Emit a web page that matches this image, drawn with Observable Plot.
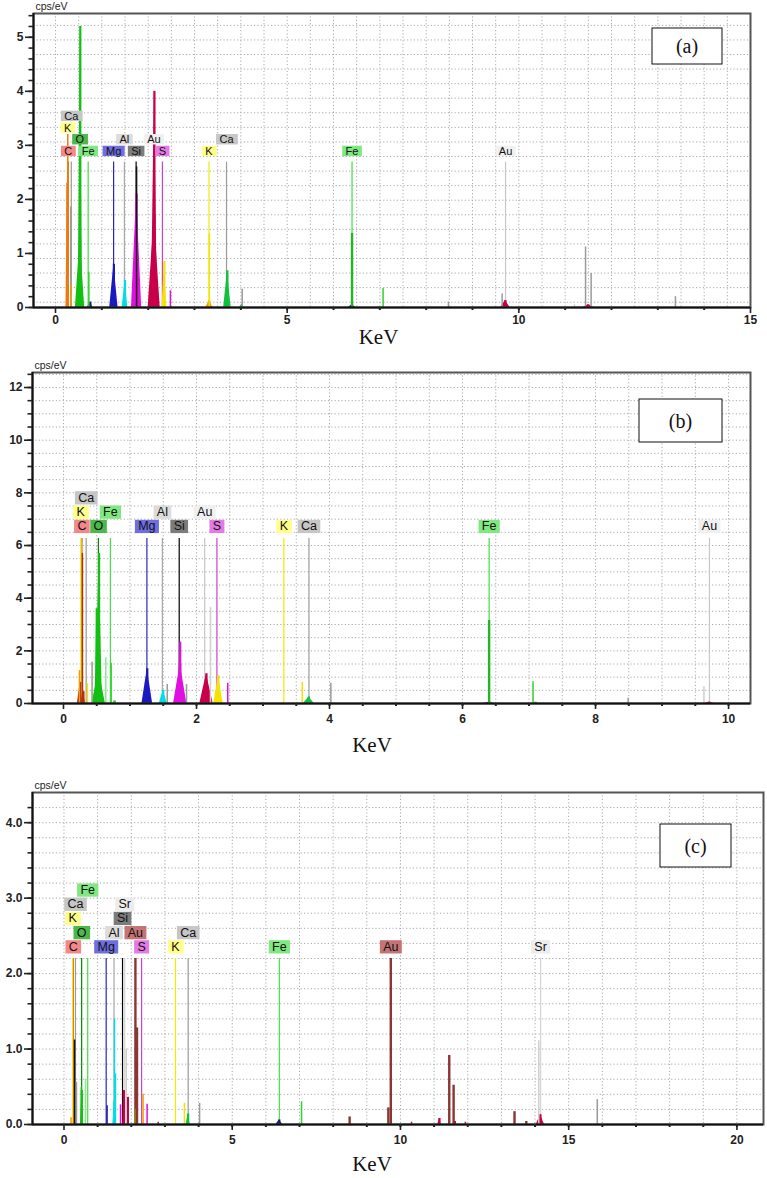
<!DOCTYPE html>
<html><head><meta charset="utf-8">
<script src="https://cdn.jsdelivr.net/npm/d3@7"></script>
<script src="https://cdn.jsdelivr.net/npm/@observablehq/plot@0.6"></script>
<style>
html,body{margin:0;padding:0;background:#fff}
#root{width:767px;height:1178px;overflow:hidden}
#root svg{display:block}
</style></head><body><div id="root"></div>
<script>
// ================= DATA =================
// Element marker labels: [symbol, energy (keV), stack row]
const labelsA = [["C",0.277,0],["Fe",0.705,0],["Mg",1.254,0],["Si",1.740,0],["S",2.307,0],["K",3.313,0],["Fe",6.400,0],["Au",9.713,0],
  ["O",0.525,1],["Al",1.487,1],["Au",2.123,1],["Ca",3.691,1],["K",0.260,2],["Ca",0.341,3]];
const labelsB = [["C",0.277,0],["O",0.525,0],["Mg",1.254,0],["Si",1.740,0],["S",2.307,0],["K",3.313,0],["Ca",3.691,0],["Fe",6.400,0],["Au",9.713,0],
  ["K",0.260,1],["Fe",0.705,1],["Al",1.487,1],["Au",2.123,1],["Ca",0.341,2]];
const labelsC = [["C",0.277,0],["Mg",1.254,0],["S",2.307,0],["K",3.313,0],["Fe",6.400,0],["Au",9.713,0],["Sr",14.165,0],
  ["O",0.525,1],["Al",1.487,1],["Au",2.123,1],["Ca",3.691,1],["K",0.260,2],["Si",1.740,2],["Ca",0.341,3],["Sr",1.806,3],["Fe",0.705,4]];

// height (cps/eV) of the marker lines
const markerTopA = 2.69, markerTopB = 6.27, markerTopC = 2.2;

// Filled peaks: [series, centre keV, height cps/eV, half width keV]
const peaksA = [["C",0.255,2.3,0.03],["O",0.53,1.3,0.1],["O",0.535,5.2,0.045],["Nv",0.75,0.1,0.06],["Mg",1.26,0.8,0.09],
  ["Al",1.50,0.5,0.06],["Si",1.75,2.1,0.11],["Au",2.13,1.7,0.13],["Au",2.135,4.0,0.065],["Y",2.35,0.85,0.05],
  ["Or",3.32,0.12,0.08],["Ca",3.71,0.68,0.08],["Ca",4.02,0.05,0.05],["Nv",6.40,0.05,0.08],["Au",9.71,0.13,0.1],["Au",11.5,0.05,0.12]];
const peaksB = [["Cd",0.25,0.8,0.04],["Cd",0.30,0.45,0.03],["O",0.53,1.3,0.1],["O",0.535,5.7,0.05],["O",0.50,3.6,0.025],
  ["Fe",0.77,0.1,0.03],["Mg",1.26,1.32,0.08],["Al",1.50,0.5,0.06],["Si",1.755,1.5,0.1],["Si",1.755,2.33,0.04],
  ["Au",2.15,1.13,0.1],["Y",2.33,1.06,0.07],["Ca",3.69,0.25,0.08],["Nv",6.40,0.05,0.08],["Fe",7.10,0.05,0.03],["Au",9.71,0.05,0.08]];
const peaksC = [["Al",1.5,0.3,0.05],["O",0.53,0.45,0.04],["Au",1.78,0.45,0.03],["Au",1.90,0.36,0.03],["Ol",2.13,0.2,0.04],
  ["Ca",3.69,0.14,0.06],["Nv",6.40,0.06,0.1],["Au",11.16,0.08,0.05],["Au",11.62,0.04,0.05],["Au",14.16,0.13,0.12]];

// Narrow spectral lines: [series, keV, height cps/eV]
const spikesA = [["C",0.265,3.2],["Gr",0.33,1.86],["Or",0.337,0.41],["Fe",0.72,0.65],["Bk",1.75,2.6],["Si",2.48,0.31],
  ["Y",3.32,1.36],["Gr",4.03,0.34],["FeK",6.40,1.37],["Fe",7.07,0.35],["Gr",8.48,0.1],["Gr",9.64,0.25],
  ["Lg",11.2,0.05],["Gr",11.44,1.12],["Gr",11.56,0.63],["Gr",13.38,0.2]];
const spikesB = [["Cd",0.285,5.7],["Or",0.24,1.25],["Y",0.36,0.75],["Gr",0.43,1.57],["Fel",0.636,1.74],["Fe",0.717,1.53],
  ["Gr",1.56,0.72],["Gr",1.85,0.72],["Lg",2.21,3.65],["Si",2.47,0.77],["Y",3.59,0.81],["Gr",4.02,0.77],
  ["FeK",6.40,3.15],["Fe",7.06,0.83],["Gr",8.49,0.2],["Lg",9.63,0.64]];
const spikesC = [["Or",0.21,0.09],["Bk",0.315,1.12],["Gr",0.37,0.56],["O",0.515,0.49],["Fel",0.64,0.6],["Mg",1.28,0.25],
  ["Al",1.50,1.40],["Al",1.53,0.67],["Si",1.68,0.26],["Lg",1.85,1.0],["Aub",2.17,1.28],["Or",2.35,0.4],["Si",2.47,0.27],
  ["Au",2.80,0.03],["Y",3.58,0.28],["Gr",4.03,0.28],["Fe",7.06,0.30],["Aub",8.49,0.1],["Aub",9.64,0.22],["Au",10.33,0.03],
  ["Aub",11.45,0.915],["Aub",11.58,0.52],["Au",11.93,0.03],["Aub",13.39,0.17],["Aub",13.74,0.04],["Lg",14.11,1.11],["Gr",15.85,0.33]];

// Axis tick labels
const xTicksA = [0,5,10,15], yTicksA = [0,1,2,3,4,5];
const xTicksB = [0,2,4,6,8,10], yTicksB = [0,2,4,6,8,10,12];
const xTicksC = [0,5,10,15,20], yTicksC = [0,1,2,3,4];
const tags = ["(a)","(b)","(c)"];

// ================= STYLES =================
const peakColor = {C:"#f07a10",Cd:"#b3300f",O:"#12c012",Fe:"#2fd22f",FeK:"#1fb81f",Fel:"#8fe88f",Nv:"#1c1c7a",Mg:"#1a1ac0",
  Al:"#00dde6",Si:"#e010e0",Au:"#c8004a",Aub:"#8b3535",Y:"#f2e400",Or:"#f59a00",Ca:"#12c040",Gr:"#9a9a9a",Lg:"#cfcfcf",Bk:"#111111",Ol:"#8a8a10"};
const markerColor = {C:"#e0601c",K:"#eded00",Ca:"#9a9a9a",O:"#008800",Fe:"#45dd45",Mg:"#2828b8",Al:"#a8a8a8",Si:"#000000",Au:"#c6c6c6",S:"#d040d0",Sr:"#d4d4d4"};
const boxColor = {C:"#f28888",K:"#ffff8a",Ca:"#c6c6c6",O:"#4cb84c",Fe:"#80e880",Mg:"#6e6ee0",Al:"#dcdcdc",Si:"#7c7c7c",Au:"#f0f0f0",S:"#e47ae4",Sr:"#ececec"};
const SANS = "'Liberation Sans', Arial, sans-serif";
const SERIF = "'Liberation Serif', 'Times New Roman', serif";

const panels = [
  {labels:labelsA, peaks:peaksA, spikes:spikesA, markerTop:markerTopA, xTicks:xTicksA, yTicks:yTicksA, tag:tags[0],
   xDomain:[-0.475,15], yDomain:[0,5.44], xMinor:d3.range(1,15), yMinor:d3.range(0,5.41,0.2),
   gridX:d3.range(0,14.6,0.5), gridY:d3.range(0.098,5.3,0.2696),
   L:{height:360, mt:13, mb:53, ml:33, mr:17, fs:11, boxH:10.4, gap:5.5, pitch:11.7, pad:3.4, keVdx:-13.5, keVdy:30, tickPad:2,
      yFmt:d3.format("d"), tag:{right:28, top:15, w:70, h:36}, cpsDy:-6.5, marker:{}, box:{}, thick:{}}},
  {labels:labelsB, peaks:peaksB, spikes:spikesB, markerTop:markerTopB, xTicks:xTicksB, yTicks:yTicksB, tag:tags[1],
   xDomain:[-0.466,10.33], yDomain:[0,12.57], xMinor:d3.range(0.5,10.3,0.5), yMinor:d3.range(0,12.51,0.5),
   gridX:d3.range(0,10.1,0.5), gridY:d3.range(0.5,12.51,0.5),
   L:{height:410, mt:12, mb:67, ml:32, mr:17, fs:12.5, boxH:13.3, gap:5.3, pitch:14.3, pad:3.3, keVdx:-19.5, keVdy:42, tickPad:5,
      yFmt:d3.format("d"), tag:{right:28, top:27, w:83, h:43}, cpsDy:-7, marker:{C:"#c8501e"}, box:{}, thick:{}}},
  {labels:labelsC, peaks:peaksC, spikes:spikesC, markerTop:markerTopC, xTicks:xTicksC, yTicks:yTicksC, tag:tags[2],
   xDomain:[-0.936,20.79], yDomain:[0,4.4], xMinor:d3.range(1,20.5,1), yMinor:d3.range(0,4.31,0.2),
   gridX:d3.range(0,20.5,1), gridY:d3.range(0.2,4.3,0.2),
   L:{height:408, mt:22, mb:54, ml:32, mr:4, fs:12.5, boxH:13.3, gap:5, pitch:14.2, pad:3.3, keVdx:-26, keVdy:40, tickPad:5,
      yFmt:d3.format(".1f"), tag:{right:32, top:32, w:71, h:43}, cpsDy:-7, marker:{C:"#e02424",Au:"#8b3535"}, box:{Au:"#c47474"}, thick:{Au:2.4}}}
];

const symbols = new Set(Object.keys(boxColor));
const root = document.getElementById("root");

for (const D of panels) {
  const L = D.L;
  const labels = D.labels.map(([el,e,row]) => ({el,e,row}));
  const peaks = D.peaks.map(([s,e,h,w]) => ({s,e,h,w}));
  const peakPts = peaks.flatMap(({s,e,h,w},i) => [{i,s,e:e-w,h:0},{i,s,e,h},{i,s,e:e+w,h:0}]);
  const spikes = D.spikes.map(([s,e,h]) => ({s,e,h}));
  const rows = [...new Set(labels.map(d => d.row))];
  const mc = el => L.marker[el] ?? markerColor[el];
  const grid = {stroke:"#aaaaaa", strokeDasharray:"1.2,2.2", strokeWidth:1};

  const svg = Plot.plot({
    width:767, height:L.height,
    marginTop:L.mt, marginBottom:L.mb, marginLeft:L.ml, marginRight:L.mr,
    x:{domain:D.xDomain, label:null, axis:null},
    y:{domain:D.yDomain, label:null, axis:null},
    color:{type:"identity"},
    style:{background:"#fff", overflow:"visible"},
    marks:[
      Plot.ruleX(D.gridX, grid),
      Plot.ruleY(D.gridY, grid),
      Plot.ruleX(labels, {x:"e", y1:0, y2:D.markerTop, stroke:d => mc(d.el), strokeWidth:d => L.thick[d.el] ?? 1.2}),
      Plot.areaY(peakPts, {x:"e", y1:0, y2:"h", z:"i", fill:d => peakColor[d.s], curve:"linear"}),
      Plot.ruleX(peaks, {x:"e", y1:0, y2:"h", stroke:d => peakColor[d.s], strokeWidth:2.2}),
      Plot.ruleX(spikes, {x:"e", y1:0, y2:"h", stroke:d => peakColor[d.s], strokeWidth:d => (d.s === "FeK" || d.s === "Aub") ? 2.4 : 1.5}),
      ...rows.map(r => Plot.text(labels.filter(d => d.row === r), {
        x:"e", y:D.markerTop, text:"el", dy:-(L.gap + L.boxH/2 + r*L.pitch),
        fontSize:L.fs, fontFamily:SANS, fill:"#111", lineAnchor:"middle", textAnchor:"middle"})),
      Plot.frame({stroke:"#555", strokeWidth:2}),
      Plot.ruleY([D.yDomain[0]], {stroke:"#111", strokeWidth:2}),
      Plot.ruleX([D.xDomain[0]], {stroke:"#111", strokeWidth:2}),
      Plot.axisY(D.yMinor, {tickSize:4.5, tickFormat:() => "", label:null, stroke:"#222", strokeWidth:1.6}),
      Plot.axisY(D.yTicks, {tickSize:8, tickPadding:2, tickFormat:L.yFmt, label:null, fontSize:12, fontWeight:"bold",
        fontFamily:SANS, fill:"#222", stroke:"#222", strokeWidth:1.6}),
      Plot.axisX(D.xMinor, {tickSize:3, tickFormat:() => "", label:null, stroke:"#222", strokeWidth:2}),
      Plot.axisX(D.xTicks, {tickSize:6, tickPadding:L.tickPad, label:null, fontSize:12, fontWeight:"bold",
        fontFamily:SANS, fill:"#222", stroke:"#222", strokeWidth:1.6}),
      Plot.text(["KeV"], {text:d => d, frameAnchor:"bottom", dx:L.keVdx, dy:L.keVdy, fontFamily:SERIF, fontSize:21,
        fill:"#111", lineAnchor:"middle"}),
      Plot.text(["cps/eV"], {text:d => d, frameAnchor:"top-left", dx:2, dy:L.cpsDy, textAnchor:"start",
        lineAnchor:"middle", fontFamily:SANS, fontSize:10.5, fill:"#222"})
    ]
  });
  root.appendChild(svg);

  // coloured boxes behind element labels
  const ns = "http://www.w3.org/2000/svg";
  svg.querySelectorAll('g[aria-label="text"] text').forEach(t => {
    const sym = t.textContent;
    if (!symbols.has(sym)) return;
    const bb = t.getBBox();
    const r = document.createElementNS(ns, "rect");
    r.setAttribute("x", bb.x - L.pad);
    r.setAttribute("y", bb.y + bb.height/2 - L.boxH/2);
    r.setAttribute("width", bb.width + 2*L.pad);
    r.setAttribute("height", L.boxH);
    r.setAttribute("fill", L.box[sym] ?? boxColor[sym]);
    const tr = t.getAttribute("transform");
    if (tr) r.setAttribute("transform", tr);
    t.parentNode.insertBefore(r, t);
  });

  // panel tag box
  const T = L.tag;
  const x0 = 767 - L.mr - T.right - T.w, y0 = L.mt + T.top;
  const s = d3.select(svg);
  s.append("rect").attr("x", x0).attr("y", y0).attr("width", T.w).attr("height", T.h)
    .attr("fill", "#fff").attr("stroke", "#111").attr("stroke-width", 1);
  s.append("text").attr("x", x0 + T.w/2).attr("y", y0 + T.h/2).attr("dy", "0.35em")
    .attr("text-anchor", "middle").attr("font-family", SERIF).attr("font-size", 20).attr("fill", "#111").text(D.tag);
}
</script>
</body></html>
